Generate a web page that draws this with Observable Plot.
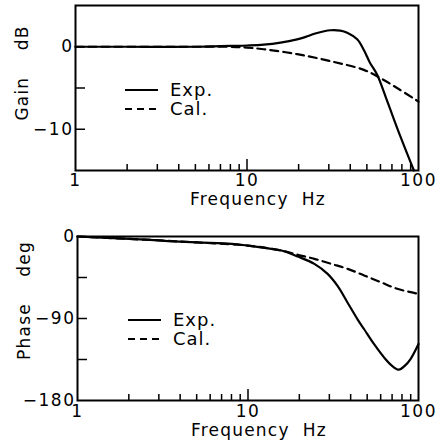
<!DOCTYPE html>
<html><head><meta charset="utf-8">
<script src="https://cdn.jsdelivr.net/npm/d3@7"></script>
<script src="https://cdn.jsdelivr.net/npm/@observablehq/plot@0.6"></script>
<style>
body{margin:0;background:#fff;}
#chart{width:444px;}
#chart svg{display:block;font-family:"DejaVu Sans","Liberation Sans",Arial,sans-serif;color:#000;}
svg text{white-space:pre;}
g[aria-label$="tick label"] text{letter-spacing:1.5px;}
g[aria-label="text"] text{letter-spacing:1.2px;}
.lg text{letter-spacing:1px;}
</style></head><body><div id="chart"></div>
<script>
// ---- data ----
const freqMinorTicks = [2,3,4,5,6,7,8,9,20,30,40,50,60,70,80,90];
const freqMajorTicks = [10];
const freqLabels = [1,10,100];
const gainTicks = [0,-5,-10];
const gainLabels = [0,-10];
const phaseTicks = [-45,-90,-135];
const phaseLabels = [0,-90,-180];
const seriesNames = ["Exp.","Cal."];

const gainExpFreq = [1,2,5,8,10,12.5,15.7,19.6,22,25,30.7,35,38.4,43.9,48,52,57.4,65.7,78.5,94];
const gainExp     = [0,0,0,0.1,0.15,0.25,0.5,0.9,1.2,1.6,2.0,1.95,1.7,0.9,-0.4,-1.9,-3.4,-6.6,-10.9,-15];
const gainCalFreq = [1,5,8,10,12.5,19.6,30.7,48,60,75,100];
const gainCal     = [0,0,0,-0.1,-0.3,-0.9,-1.75,-2.8,-3.8,-5.0,-6.65];

const phaseExpFreq = [1,1.5,2.5,3.4,5,8,10,12.5,15.7,19.6,24.5,29.3,33.6,38.4,43.9,48,54.9,62.8,70,76.7,83,89.8,100];
const phaseExp     = [0,-1.5,-3.5,-5,-6.5,-8,-10,-12.5,-15.4,-22,-30,-41,-54.5,-72.7,-90.9,-101.8,-118.2,-132.7,-142,-146.2,-142,-134.5,-118];
const phaseCalFreq = [1,2.5,5,10,15.7,19.6,24.5,30.7,38.4,48,60,75,100];
const phaseCal     = [0,-3.5,-6.5,-10,-15.4,-20.1,-24.5,-30,-35.5,-42.8,-50.1,-57.4,-62.9];

const toRows = (fs, vs) => fs.map((f, i) => ({f, v: vs[i]}));

function legendMark(dx, dy) {
  return (index, scales, values, dims) => {
    const g = d3.create("svg:g").attr("class", "lg");
    const x0 = dims.marginLeft + dx, y0 = dims.marginTop + dy;
    seriesNames.forEach((name, i) => {
      const y = y0 + i * 19;
      g.append("line").attr("x1", x0).attr("x2", x0 + 33).attr("y1", y).attr("y2", y)
        .attr("stroke", "#000").attr("stroke-width", 1.8)
        .attr("stroke-dasharray", i === 0 ? null : "7,5");
      g.append("text").attr("x", x0 + 45).attr("y", y).attr("dy", "0.35em")
        .attr("text-anchor", "start")
        .attr("font-size", 18).attr("fill", "#000").text(name);
    });
    return g.node();
  };
}

function panel({height, mt, mb, ml, mr, yDomain, yTicks, yLabels, exp, cal, ylab, ylabDy, xPad, xlabDy, lgDx, lgDy}) {
  const plotH = height - mt - mb, plotW = 444 - ml - mr;
  return Plot.plot({
    width: 444, height,
    marginTop: mt, marginBottom: mb, marginLeft: ml, marginRight: mr,
    x: {type: "log", domain: [1, 100]},
    y: {domain: yDomain},
    marks: [
      Plot.ruleX(freqMinorTicks, {insetTop: plotH - 6, strokeWidth: 1.5}),
      Plot.ruleX(freqMajorTicks, {insetTop: plotH - 11, strokeWidth: 1.5}),
      Plot.ruleY(yTicks, {insetRight: plotW - 10, strokeWidth: 1.5}),
      Plot.line(cal, {x: "f", y: "v", curve: "catmull-rom", strokeWidth: 2.2, strokeDasharray: "8,5"}),
      Plot.line(exp, {x: "f", y: "v", curve: "catmull-rom", strokeWidth: 2.2}),
      Plot.frame({strokeWidth: 2}),
      Plot.axisX({ticks: freqLabels, tickSize: 0, tickPadding: xPad, tickFormat: d => String(d), fontSize: 17, label: null}),
      Plot.axisY({ticks: yLabels, tickSize: 0, tickPadding: 2, fontSize: 17, label: null}),
      Plot.text(["Frequency  Hz"], {frameAnchor: "bottom", dy: xlabDy, dx: 11, fontSize: 17}),
      Plot.text([ylab], {frameAnchor: "left", textAnchor: "middle", dx: -53, dy: ylabDy, rotate: -90, fontSize: 17})
      , legendMark(lgDx, lgDy)
    ]
  });
}

const gainPanel = panel({
  height: 223, mt: 5, mb: 53, ml: 75, mr: 26,
  yDomain: [-15, 5], yTicks: gainTicks, yLabels: gainLabels,
  exp: toRows(gainExpFreq, gainExp), cal: toRows(gainCalFreq, gainCal),
  ylab: "Gain    dB", ylabDy: -15, xPad: 3, xlabDy: 34, lgDx: 50, lgDy: 85
});
const phasePanel = panel({
  height: 223, mt: 13, mb: 46, ml: 77, mr: 26,
  yDomain: [-180, 0], yTicks: phaseTicks, yLabels: phaseLabels,
  exp: toRows(phaseExpFreq, phaseExp), cal: toRows(phaseCalFreq, phaseCal),
  ylab: "Phase    deg", ylabDy: -18, xPad: 4, xlabDy: 35, lgDx: 51, lgDy: 84
});
document.getElementById("chart").append(gainPanel, phasePanel);
</script>
</body></html>
